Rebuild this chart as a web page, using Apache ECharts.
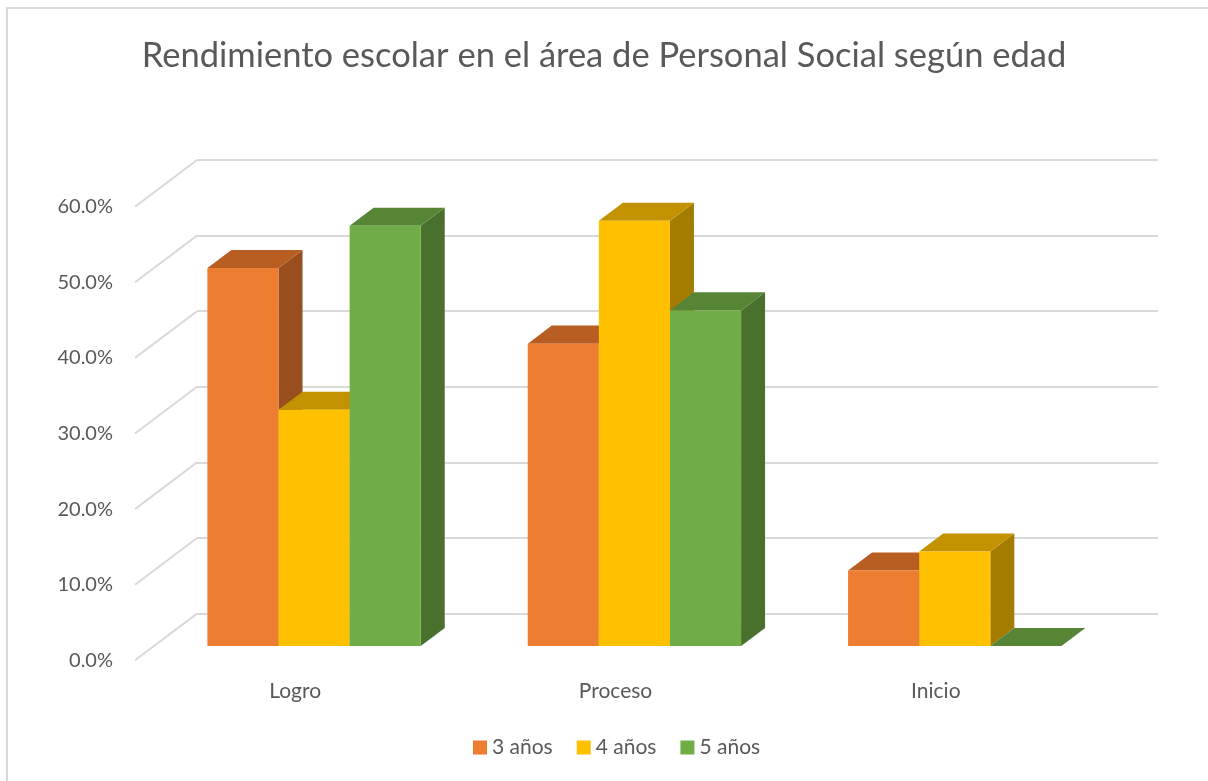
<!DOCTYPE html>
<html>
<head>
<meta charset="utf-8">
<script src="https://cdn.jsdelivr.net/npm/echarts@6/dist/echarts.min.js"></script>
<style>
  html, body { margin: 0; padding: 0; background: #fff; }
  #chart { width: 1208px; height: 781px; }
</style>
</head>
<body>
<div id="chart"></div>
<script>
// datos del gráfico
var categories = ['Logro', 'Proceso', 'Inicio'];
var ages = ['3 años', '4 años', '5 años'];
var values3 = [0.50, 0.40, 0.10];
var values4 = [0.3125, 0.5625, 0.125];
var values5 = [0.556, 0.444, 0.0];
var yTicks = [0, 0.1, 0.2, 0.3, 0.4, 0.5, 0.6];

// colores: frente, tapa, lado
var shades = [
    ['#ED7D31', '#B85E23', '#9A4E1D'],
    ['#FFC000', '#C29200', '#A47C00'],
    ['#70AD47', '#578536', '#4A702D']
];

// perspectiva oblicua
var DEPTH_X = 62, DEPTH_Y = 46.7;
var FRONT_SHIFT = 0.305;   // donde empieza la barra en profundidad
var BAR_DEPTH = 0.387;     // fondo de la barra
var BAR_FRAC = 0.222;      // ancho de barra / ancho de categoría

var FRONT = {left: 135, right: 112, top: 206.7, bottom: 120.7};

var myChart = echarts.init(document.getElementById('chart'));

function barRender(k) {
    return function (params, api) {
        var cat = api.value(0), val = api.value(1);
        var top = api.coord([cat, val]);
        var base = api.coord([cat, 0]);
        var bw = api.size([1, 0])[0] * BAR_FRAC;
        var x0 = top[0] - 1.5 * bw + k * bw + FRONT_SHIFT * DEPTH_X;
        var yb = base[1] - FRONT_SHIFT * DEPTH_Y;
        var yt = top[1] - FRONT_SHIFT * DEPTH_Y;
        var dx = BAR_DEPTH * DEPTH_X, dy = BAR_DEPTH * DEPTH_Y;
        var c = shades[k];
        return {
            type: 'group',
            children: [
                {type: 'polygon', shape: {points: [[x0 + bw, yt], [x0 + bw + dx, yt - dy], [x0 + bw + dx, yb - dy], [x0 + bw, yb]]}, style: {fill: c[2]}},
                {type: 'polygon', shape: {points: [[x0, yt], [x0 + dx, yt - dy], [x0 + bw + dx, yt - dy], [x0 + bw, yt]]}, style: {fill: c[1]}},
                {type: 'rect', shape: {x: x0, y: yt, width: bw, height: yb - yt}, style: {fill: c[0]}}
            ]
        };
    };
}

// líneas diagonales del piso / pared izquierda
function diagRender(params, api) {
    var y = api.coord([0, api.value(1)])[1];
    var x = params.coordSys.x;
    return {
        type: 'line',
        shape: {x1: x, y1: y, x2: x + DEPTH_X, y2: y - DEPTH_Y},
        style: {stroke: '#D9D9D9', lineWidth: 2}
    };
}

var allValues = [values3, values4, values5];
var barSeries = ages.map(function (name, k) {
    return {
        name: name,
        type: 'custom',
        xAxisIndex: 0,
        yAxisIndex: 0,
        itemStyle: {color: shades[k][0]},
        renderItem: barRender(k),
        data: allValues[k].map(function (v, i) { return [i, v]; }),
        z: 3 + k
    };
});

var txt = '#595959';
var font = 'Lato, "Open Sans", sans-serif';

var option = {
    animation: false,
    textStyle: {fontFamily: font},
    title: {
        text: 'Rendimiento escolar en el área de Personal Social según edad',
        left: 'center',
        top: 33,
        padding: [5, 5, 5, 23],
        textStyle: {color: txt, fontSize: 34.5, fontWeight: 'normal', fontFamily: font}
    },
    legend: {
        data: ages,
        bottom: 18,
        left: 468,
        icon: 'rect',
        itemWidth: 14,
        itemHeight: 14,
        itemGap: 24,
        textStyle: {color: txt, fontSize: 21, fontFamily: font}
    },
    graphic: [{
        type: 'rect',
        shape: {x: 7, y: 8, width: 1300, height: 900},
        style: {fill: 'none', stroke: '#D9D9D9', lineWidth: 2},
        silent: true
    }],
    grid: [
        FRONT,
        {
            left: FRONT.left + DEPTH_X,
            right: FRONT.right - DEPTH_X,
            top: FRONT.top - DEPTH_Y,
            bottom: FRONT.bottom + DEPTH_Y
        }
    ],
    xAxis: [
        {
            type: 'category', gridIndex: 0, data: categories,
            axisLine: {show: false}, axisTick: {show: false},
            axisLabel: {color: txt, fontSize: 21, margin: 20, fontFamily: font}
        },
        {
            type: 'category', gridIndex: 1, data: categories,
            axisLine: {show: false}, axisTick: {show: false}, axisLabel: {show: false}
        }
    ],
    yAxis: [
        {
            type: 'value', gridIndex: 0, min: yTicks[0], max: yTicks[yTicks.length - 1], interval: 0.1,
            axisLine: {show: false}, axisTick: {show: false}, splitLine: {show: false},
            axisLabel: {
                color: txt, fontSize: 20, margin: 22, fontFamily: font,
                formatter: function (v) { return (v * 100).toFixed(1) + '%'; }
            }
        },
        {
            type: 'value', gridIndex: 1, min: yTicks[0], max: yTicks[yTicks.length - 1], interval: 0.1,
            axisLine: {show: false}, axisTick: {show: false}, axisLabel: {show: false},
            splitLine: {show: true, lineStyle: {color: '#D9D9D9', width: 2}}
        }
    ],
    series: [
        {
            type: 'custom',
            xAxisIndex: 0,
            yAxisIndex: 0,
            renderItem: diagRender,
            data: yTicks.map(function (v) { return [0, v]; }),
            silent: true,
            z: 1
        }
    ].concat(barSeries)
};

myChart.setOption(option);
</script>
</body>
</html>
